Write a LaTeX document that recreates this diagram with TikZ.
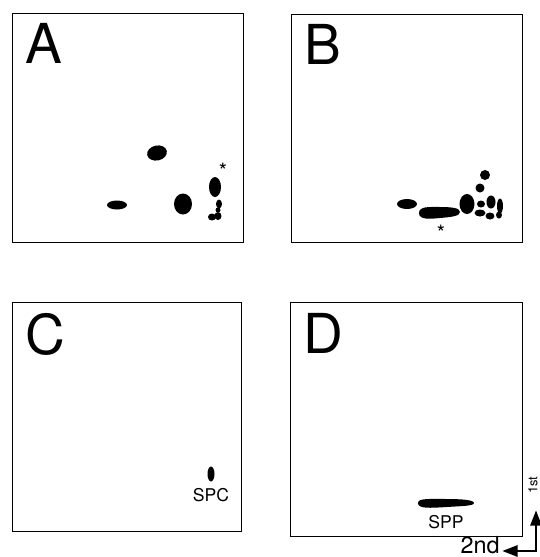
\documentclass[tikz,border=0pt]{standalone}
\usepackage{fontspec}
\setmainfont{TeX Gyre Heros}
\usetikzlibrary{arrows.meta}
\begin{document}
\begin{tikzpicture}[x=0.3mm, y=-0.3mm,
    panel/.style={draw, line width=0.7pt},
    letter/.style={anchor=north west, inner sep=0pt, font=\fontsize{47}{47}\selectfont},
    spotname/.style={inner sep=0pt, font=\fontsize{15}{15}\selectfont},
    starmark/.style={inner sep=0pt, font=\fontsize{18}{18}\selectfont},
    axisarrow/.style={line width=1.8pt, -{Triangle[length=4.6mm, width=3.4mm]}}]
    \useasboundingbox (0,0) rectangle (540,557);

    % Panel A
    \draw[panel] (12,13) rectangle (243,242);
    \node[letter] (labA) at (25,23) {A};
    \fill[rotate around={12:(157,153)}] (157,153) ellipse (10 and 7.5);
    \fill (117,205) ellipse (10 and 4.5);
    \fill (183,204) ellipse (9 and 10.5);
    \fill (215,187) ellipse (6 and 10);
    \fill (219,204) ellipse (3 and 4.5);
    \fill (218,210) circle (2.5);
    \fill (212,217) ellipse (4 and 3.5);
    \fill (218,216) ellipse (3.5 and 4);
    \node[starmark] (astA) at (223,171) {*};

    % Panel B
    \draw[panel] (291,14) rectangle (522,242);
    \node[letter] (labB) at (304,24) {B};
    \fill (407,204) ellipse (10 and 5);
    \fill (419,213) .. controls (419,206) and (430,207) .. (440,207)
        .. controls (452,207) and (460,208) .. (460,212)
        .. controls (460,216) and (452,217) .. (440,218)
        .. controls (430,219) and (419,220) .. (419,213) -- cycle;
    \fill (467,204) ellipse (7.5 and 10);
    \fill (485,175) circle (5);
    \fill (480,188) circle (4.5);
    \fill (481,204) ellipse (4 and 3.5);
    \fill (491,202) ellipse (4.5 and 6.5);
    \fill (500,206) ellipse (3 and 7.5);
    \fill (480,213) ellipse (5.5 and 3.5);
    \fill (490,216) ellipse (4.5 and 3.5);
    \fill (499,215) ellipse (3 and 3.5);
    \node[starmark] (astB) at (441,233) {*};

    % Panel C
    \draw[panel] (12,302) rectangle (241,531);
    \node[letter] (labC) at (25,313) {C};
    \fill (211,474) ellipse (3.5 and 7.5);
    \node[spotname] (spc) at (211,495) {SPC};

    % Panel D
    \draw[panel] (290,302) rectangle (522,536);
    \node[letter] (labD) at (303,313) {D};
    \fill (418,503) .. controls (418,498) and (430,499) .. (447,499)
        .. controls (462,499) and (474,500) .. (474,503)
        .. controls (474,506) and (462,506) .. (447,507)
        .. controls (430,508) and (418,509) .. (418,503) -- cycle;
    \node[spotname] (spp) at (446,522) {SPP};

    % direction of the two dimensions
    \coordinate (corner) at (536,551);
    \node[inner sep=0pt, rotate=90, anchor=west, font=\fontsize{11}{11}\selectfont] (first) at (533,494) {1st};
    \node[inner sep=0pt, anchor=base east, font=\fontsize{20}{20}\selectfont] (second) at (500,553) {2nd};
    \coordinate (firstfoot) at ([yshift=-14pt]first.west);
    \draw[axisarrow] ([yshift=0.8pt]corner) -- (corner |- firstfoot);
    \draw[axisarrow] ([xshift=0.9pt]corner) -- ([xshift=2pt]second.east |- corner);
\end{tikzpicture}
\end{document}
